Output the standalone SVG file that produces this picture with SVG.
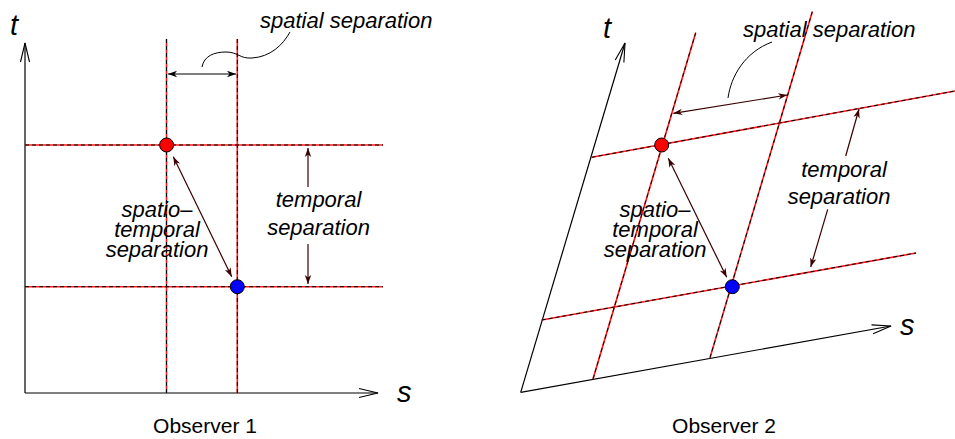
<svg xmlns="http://www.w3.org/2000/svg" width="955" height="439" viewBox="0 0 955 439">
<style>
.ax{stroke:#000;stroke-width:1.2;fill:none}
.gr{stroke:#ff1a1a;stroke-width:1.6;fill:none}
.gd{stroke:#000;stroke-width:1;stroke-dasharray:4 3;fill:none}
.sep{stroke:#000;stroke-width:1.2;fill:none;marker-start:url(#hb);marker-end:url(#hb)}
.sepm{stroke:#3a0000;stroke-width:1.2;fill:none}
.lead{stroke:#000;stroke-width:1;fill:none}
.lbl{font-family:"Liberation Sans",Arial,sans-serif;font-style:italic;font-size:22px;fill:#000}
.axl{font-family:"Liberation Sans",Arial,sans-serif;font-style:italic;font-size:29px;fill:#000}
.cap{font-family:"Liberation Sans",Arial,sans-serif;font-size:21px;fill:#000}
.ev{stroke:#000;stroke-width:1}
</style>
<defs>
<marker id="va" viewBox="-21 -6 23 12" markerWidth="23" markerHeight="12" refX="0" refY="0" markerUnits="userSpaceOnUse" orient="auto">
<path d="M-19,-4.5 L0,0 L-19,4.5" fill="none" stroke="#000" stroke-width="1.1"/>
</marker>
<marker id="hb" viewBox="-11 -5 12 10" markerWidth="12" markerHeight="10" refX="0" refY="0" markerUnits="userSpaceOnUse" orient="auto-start-reverse">
<path d="M0,0 L-9,-3.2 L-6.5,0 L-9,3.2 Z" fill="#000"/>
</marker>
<marker id="hm" viewBox="-11 -5 12 10" markerWidth="12" markerHeight="10" refX="0" refY="0" markerUnits="userSpaceOnUse" orient="auto-start-reverse">
<path d="M0,0 L-9,-3.2 L-6.5,0 L-9,3.2 Z" fill="#3a0000"/>
</marker>
</defs>

<g id="observer1">
  <g id="axes1">
    <line class="ax" x1="25" y1="393" x2="25" y2="43" marker-end="url(#va)"/>
    <line class="ax" x1="25" y1="393" x2="378" y2="393" marker-end="url(#va)"/>
    <text class="axl" x="10" y="35">t</text>
    <text class="axl" x="397" y="402">s</text>
  </g>
  <g id="grid1">
    <line class="gr" x1="166.5" y1="39" x2="166.5" y2="393"/>
    <line class="gd" x1="166.5" y1="39" x2="166.5" y2="393"/>
    <line class="gr" x1="237.3" y1="39" x2="237.3" y2="393"/>
    <line class="gd" x1="237.3" y1="39" x2="237.3" y2="393"/>
    <line class="gr" x1="25" y1="145" x2="383" y2="145"/>
    <line class="gd" x1="25" y1="145" x2="383" y2="145"/>
    <line class="gr" x1="25" y1="286.7" x2="383" y2="286.7"/>
    <line class="gd" x1="25" y1="286.7" x2="383" y2="286.7"/>
  </g>
  <g id="connectors1">
    <line class="sep" x1="168" y1="74" x2="236" y2="74"/>
    <path class="lead" d="M202,67 C204,56 214,52 226,52 C238,52 240,59 252,58 C270,57 283,45 290,32"/>
    <line class="sepm" x1="308" y1="187" x2="308" y2="148" marker-end="url(#hm)"/>
    <line class="sepm" x1="308" y1="244" x2="308" y2="284" marker-end="url(#hm)"/>
    <line class="sepm" x1="173.3" y1="156.7" x2="231.7" y2="276.7" marker-start="url(#hm)" marker-end="url(#hm)"/>
  </g>
  <g id="event1-red"><circle class="ev" cx="166.6" cy="145" r="7" fill="#ff0000"/></g>
  <g id="event1-blue"><circle class="ev" cx="237.3" cy="286.7" r="7" fill="#0000ff"/></g>
  <g id="labels1">
    <text class="lbl" x="260" y="28">spatial separation</text>
    <text class="lbl" x="318.5" y="207" text-anchor="middle">temporal</text>
    <text class="lbl" x="318.5" y="235" text-anchor="middle">separation</text>
    <text class="lbl" x="157" y="217" text-anchor="middle">spatio–</text>
    <text class="lbl" x="157" y="237" text-anchor="middle">temporal</text>
    <text class="lbl" x="157" y="257" text-anchor="middle">separation</text>
    <text class="cap" x="205" y="433" text-anchor="middle">Observer 1</text>
  </g>
</g>

<g id="observer2">
  <g id="axes2">
    <line class="ax" x1="520.7" y1="392.3" x2="625" y2="43" marker-end="url(#va)"/>
    <line class="ax" x1="520.7" y1="392.3" x2="891" y2="326" marker-end="url(#va)"/>
    <text class="axl" x="603" y="38">t</text>
    <text class="axl" x="900" y="335">s</text>
  </g>
  <g id="grid2">
    <line class="gr" x1="695.7" y1="32.7" x2="593" y2="379"/>
    <line class="gd" x1="695.7" y1="32.7" x2="593" y2="379"/>
    <line class="gr" x1="812.3" y1="11.7" x2="710" y2="357.7"/>
    <line class="gd" x1="812.3" y1="11.7" x2="710" y2="357.7"/>
    <line class="gr" x1="591.7" y1="157.3" x2="955" y2="91"/>
    <line class="gd" x1="591.7" y1="157.3" x2="955" y2="91"/>
    <line class="gr" x1="541.7" y1="320" x2="916" y2="253"/>
    <line class="gd" x1="541.7" y1="320" x2="916" y2="253"/>
  </g>
  <g id="connectors2">
    <line class="sepm" x1="673.3" y1="113.3" x2="787.3" y2="95" stroke="#1a0000" marker-start="url(#hm)" marker-end="url(#hm)"/>
    <path class="lead" d="M728,98 C731,76 745,52 772,42"/>
    <line class="sepm" x1="845.7" y1="156" x2="859" y2="109" marker-end="url(#hm)"/>
    <line class="sepm" x1="827.7" y1="209.3" x2="810.7" y2="267" marker-end="url(#hm)"/>
    <line class="sepm" x1="668.3" y1="158.3" x2="726.7" y2="277.3" marker-start="url(#hm)" marker-end="url(#hm)"/>
  </g>
  <g id="event2-red"><circle class="ev" cx="661.7" cy="145" r="7" fill="#ff0000"/></g>
  <g id="event2-blue"><circle class="ev" cx="732.3" cy="286.7" r="7" fill="#0000ff"/></g>
  <g id="labels2">
    <text class="lbl" x="743" y="37">spatial separation</text>
    <text class="lbl" x="844" y="177" text-anchor="middle">temporal</text>
    <text class="lbl" x="839" y="204" text-anchor="middle">separation</text>
    <text class="lbl" x="655" y="217" text-anchor="middle">spatio–</text>
    <text class="lbl" x="655" y="237" text-anchor="middle">temporal</text>
    <text class="lbl" x="655" y="257" text-anchor="middle">separation</text>
    <text class="cap" x="724" y="433" text-anchor="middle">Observer 2</text>
  </g>
</g>
</svg>
